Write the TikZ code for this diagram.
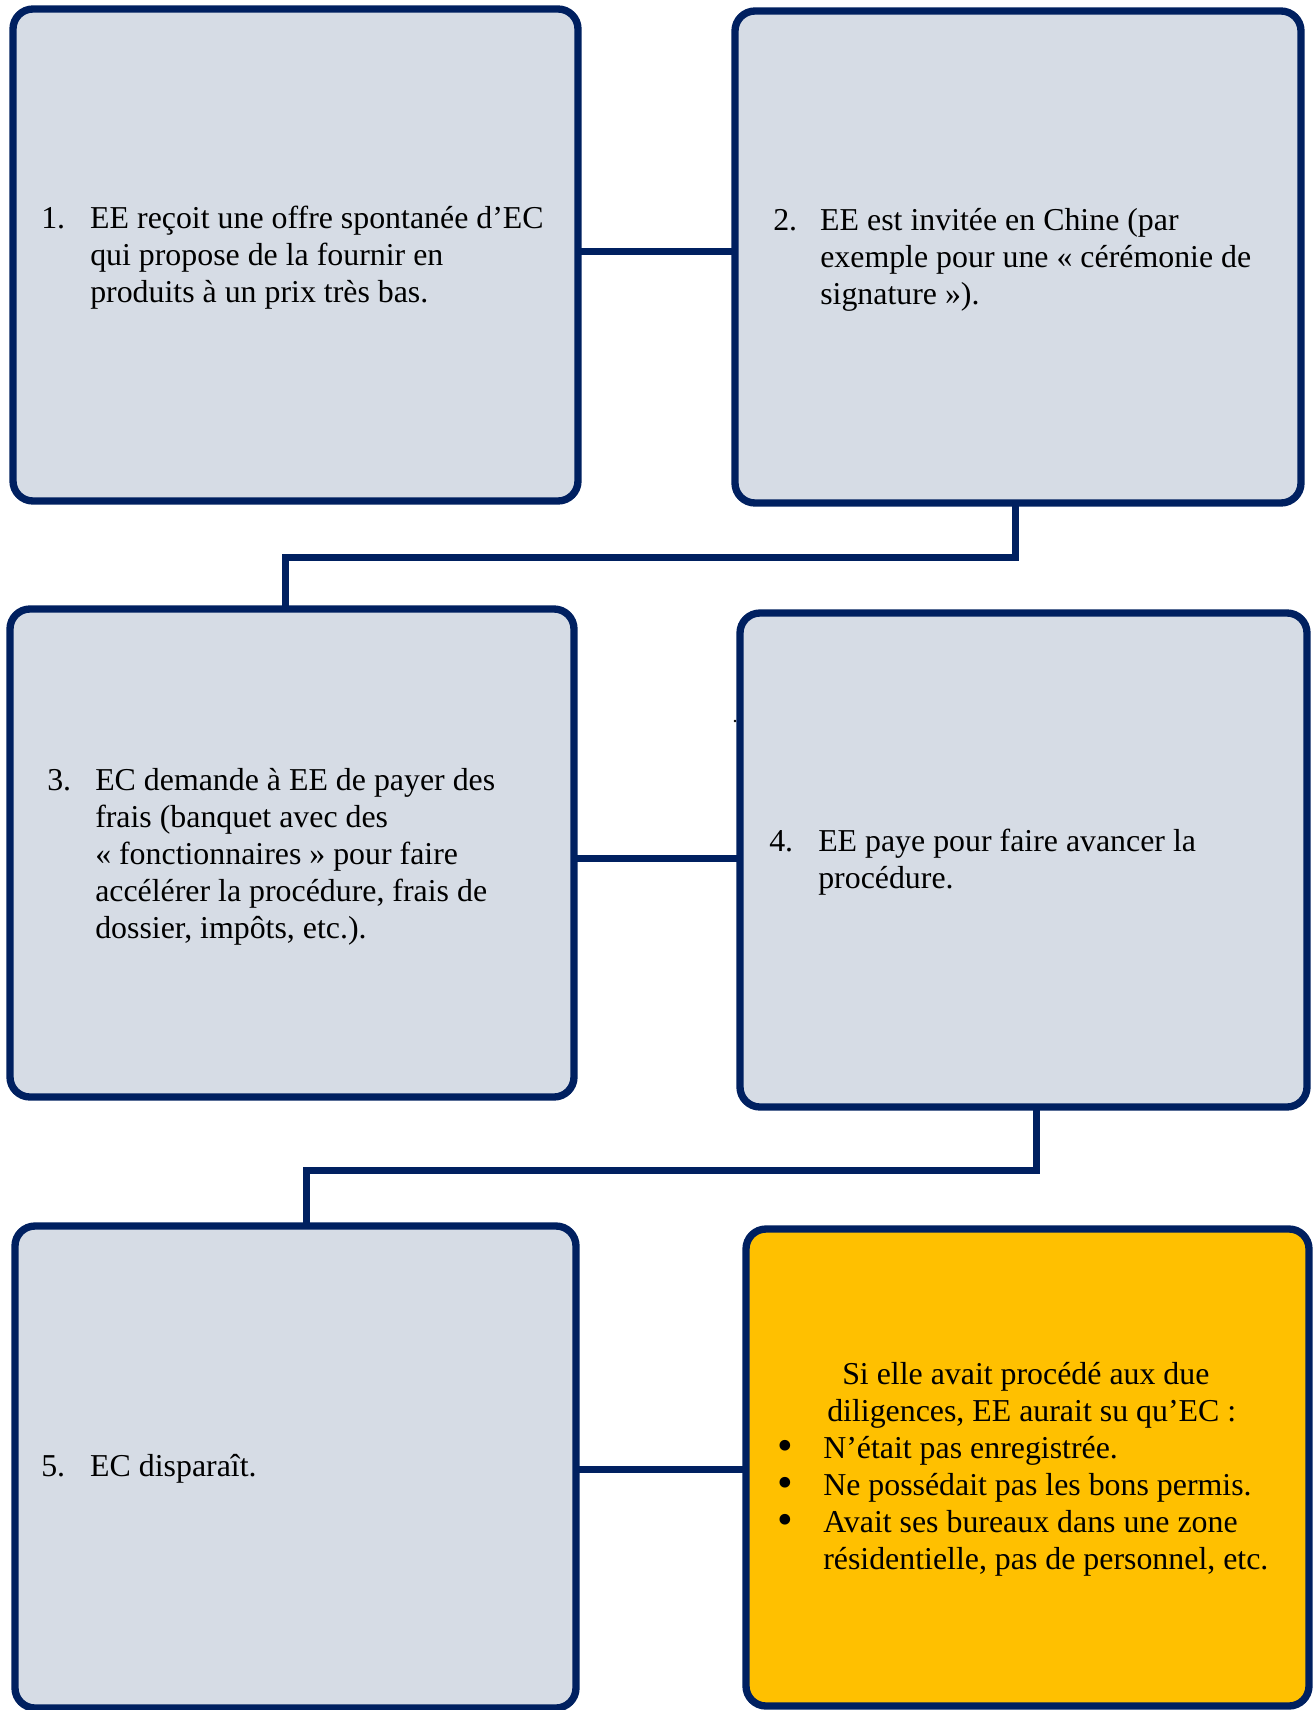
\documentclass[tikz,border=0pt]{standalone}
\usepackage{fontspec}
\setmainfont{Liberation Serif}
\usetikzlibrary{fit,calc}
\definecolor{navy}{HTML}{002060}
\definecolor{boxfill}{HTML}{D6DCE5}
\definecolor{gold}{HTML}{FFC000}
\newcommand\bigbul{\smash{\raisebox{-1.2pt}{\scalebox{1.4}{\textbullet}}}}
\begin{document}
\begin{tikzpicture}[x=0.75pt,y=-0.75pt,
  box/.style={draw=navy, line width=5.5pt, rounded corners=15pt, fill=boxfill, inner sep=0pt, outer sep=0pt},
  goldbox/.style={box, fill=gold},
  link/.style={draw=navy, line width=5.25pt, line join=miter},
  txt/.style={anchor=west, inner sep=0pt, font=\fontsize{23.9}{27.75}\selectfont, text=black}]
\useasboundingbox (0,0) rectangle (1313,1710);

% boxes
\node[box, fit={(13,9) (578,501)}] (b1) {};
\node[box, fit={(735,11) (1301,503)}] (b2) {};
\node[box, fit={(10,609) (574,1097)}] (b3) {};
\node[box, fit={(740,613) (1307,1107)}] (b4) {};
\node[box, fit={(15,1226) (576,1708)}] (b5) {};
\node[goldbox, fit={(746,1229) (1309,1706)}] (b6) {};

% connectors
\coordinate (k1) at (285,557.5);
\coordinate (k2) at (306,1170);
\draw[link] ([yshift=3pt]b1.east) -- ([yshift=3pt]b1.east -| b2.west);
\draw[link] ([xshift=-2.25pt]b2.south) |- (k1) -- (k1 |- b3.north);
\draw[link] ([yshift=-3.75pt]b3.east) -- ([yshift=-3.75pt]b3.east -| b4.west);
\draw[link] ([xshift=9.4pt]b4.south) |- (k2) -- (k2 |- b5.north);
\draw[link] ([yshift=-1.5pt]b5.east) -- ([yshift=-1.5pt]b5.east -| b6.west);

% stray dot
\fill[black] (735,721) circle (1pt);

% texts
\node[txt] (t1) at (41,257.6) {\begin{tabular}{@{}p{36.75pt}@{}l@{}}1. & EE reçoit une offre spontanée d’EC\\ & qui propose de la fournir en\\ & produits à un prix très bas.\end{tabular}};
\node[txt] (t2) at (773,259.6) {\begin{tabular}{@{}p{35.25pt}@{}l@{}}2. & EE est invitée en Chine (par\\ & exemple pour une « cérémonie de\\ & signature »).\end{tabular}};
\node[txt] (t3) at (47,856.6) {\begin{tabular}{@{}p{36pt}@{}l@{}}3. & EC demande à EE de payer des\\ & frais (banquet avec des\\ & « fonctionnaires » pour faire\\ & accélérer la procédure, frais de\\ & dossier, impôts, etc.).\end{tabular}};
\node[txt] (t4) at (769,862.1) {\begin{tabular}{@{}p{36.75pt}@{}l@{}}4. & EE paye pour faire avancer la\\ & procédure.\end{tabular}};
\node[txt] (t5) at (41,1468.6) {\begin{tabular}{@{}p{36.75pt}@{}l@{}}5. & EC disparaît.\end{tabular}};
\node[txt] (t6) at (777,1470) {\begin{tabular}{@{}p{34.5pt}@{}l@{}}\multicolumn{2}{@{}l@{}}{\hspace*{48.75pt}Si elle avait procédé aux due}\\ \multicolumn{2}{@{}l@{}}{\hspace*{37.5pt}diligences, EE aurait su qu’EC :}\\ \bigbul & N’était pas enregistrée.\\ \bigbul & Ne possédait pas les bons permis.\\ \bigbul & Avait ses bureaux dans une zone\\ & résidentielle, pas de personnel, etc.\end{tabular}};
\end{tikzpicture}
\end{document}
